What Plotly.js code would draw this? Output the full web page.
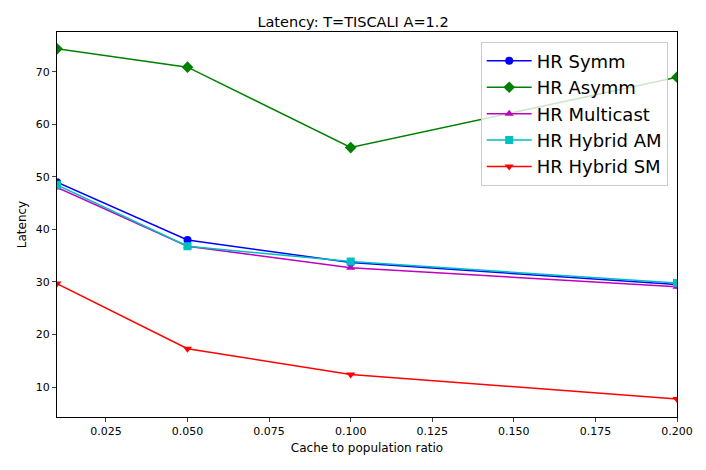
<!DOCTYPE html>
<html>
<head>
<script src="https://cdn.plot.ly/plotly-3.0.1.min.js"></script>
<style>body{margin:0;}</style>
</head>
<body>
<div id="myDiv" style="width:706px;height:470px;"></div>
<script>
var x = [0.01, 0.05, 0.1, 0.2];
var names = ['HR Symm', 'HR Asymm', 'HR Multicast', 'HR Hybrid AM', 'HR Hybrid SM'];
var hrSymm = [49.0, 38.0, 33.7, 29.5];
var hrAsymm = [74.4, 70.9, 55.6, 69.0];
var hrMulticast = [48.0, 36.8, 32.7, 29.1];
var hrHybridAM = [48.5, 36.8, 33.9, 29.8];
var hrHybridSM = [29.7, 17.3, 12.4, 7.7];

var series = [hrSymm, hrAsymm, hrMulticast, hrHybridAM, hrHybridSM];
var colors = ['#0000ff', '#008000', '#bf00bf', '#00bfbf', '#ff0000'];
var symbols = ['circle', 'diamond', 'triangle-up', 'square', 'triangle-down'];
var sizes = [8, 9, 8, 8, 8];

var data = series.map(function(y, i){
  return {
    x: x, y: y, name: names[i],
    mode: 'lines+markers', type: 'scatter',
    line: {color: colors[i], width: 1.5},
    marker: {color: colors[i], symbol: symbols[i], size: sizes[i]}
  };
});

var axisStyle = {
  showgrid: false, zeroline: false, showline: true, mirror: true,
  linecolor: '#000', linewidth: 1, ticks: 'outside', ticklen: 4,
  tickfont: {size: 11, color: '#000'}
};

var layout = {
  width: 706, height: 470,
  font: {family: 'DejaVu Sans', color: '#000'},
  title: {text: 'Latency: T=TISCALI A=1.2', font: {size: 14.5}, x: 0.5, y: 0.965},
  margin: {l: 57, r: 29, t: 32, b: 53},
  xaxis: Object.assign({}, axisStyle, {
    range: [0.01, 0.2], tickvals: [0.025, 0.05, 0.075, 0.1, 0.125, 0.15, 0.175, 0.2],
    ticktext: ['0.025', '0.050', '0.075', '0.100', '0.125', '0.150', '0.175', '0.200'],
    title: {text: 'Cache to population ratio', font: {size: 12}, standoff: 6}
  }),
  yaxis: Object.assign({}, axisStyle, {
    range: [4.29, 77.6], dtick: 10,
    title: {text: 'Latency', font: {size: 12}, standoff: 6}
  }),
  legend: {
    x: 0.985, y: 0.975, xanchor: 'right', yanchor: 'top',
    bgcolor: 'rgba(255,255,255,0.8)', bordercolor: '#ccc', borderwidth: 1,
    font: {size: 18}, itemwidth: 45
  },
  showlegend: true
};

Plotly.newPlot('myDiv', data, layout, {displayModeBar: false});
</script>
</body>
</html>
